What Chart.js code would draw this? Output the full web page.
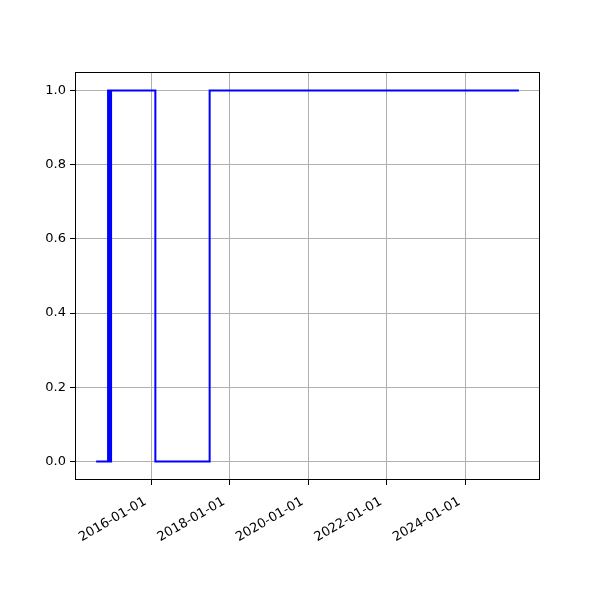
<!DOCTYPE html>
<html>
<head>
<meta charset="utf-8">
<script src="https://cdn.jsdelivr.net/npm/chart.js@4"></script>
<style>
  body { margin: 0; background: #fff; }
  #wrap { width: 600px; height: 600px; }
</style>
</head>
<body>
<div id="wrap"><canvas id="myChart" width="600" height="600"></canvas></div>
<script>
const dates = ['2014-08-05', '2014-11-24', '2014-12-01', '2014-12-08', '2014-12-15', '2014-12-22', '2016-02-07', '2017-06-26', '2025-05-12'];
const states = [0, 1, 0, 1, 0, 1, 0, 1, 1];
const xTickLabels = ['2016-01-01', '2018-01-01', '2020-01-01', '2022-01-01', '2024-01-01'];
const yTicks = [0.0, 0.2, 0.4, 0.6, 0.8, 1.0];

function toMs(s) {
    const p = s.split('-').map(Number);
    return Date.UTC(p[0], p[1] - 1, p[2]);
}

const points = dates.map((d, i) => ({ x: toMs(d), y: states[i] }));
const xFirst = points[0].x;
const xLast = points[points.length - 1].x;
const xPad = (xLast - xFirst) * 0.05;

const frame = {
    id: 'frame',
    afterDatasetsDraw(chart) {
        const a = chart.chartArea;
        const ctx = chart.ctx;
        ctx.save();
        ctx.strokeStyle = '#000';
        ctx.lineWidth = 1;
        ctx.strokeRect(a.left + 0.5, a.top + 0.5, a.right - a.left - 1, a.bottom - a.top - 1);
        ctx.restore();
    }
};

const ctx = document.getElementById('myChart').getContext('2d');
new Chart(ctx, {
    type: 'line',
    data: {
        datasets: [{
            data: points,
            borderColor: '#0000ff',
            borderWidth: 2,
            pointRadius: 0,
            stepped: 'before',
            fill: false
        }]
    },
    options: {
        responsive: false,
        animation: false,
        layout: { padding: { left: 0, right: 60, top: 72, bottom: 0 } },
        plugins: { legend: { display: false }, tooltip: { enabled: false } },
        scales: {
            x: {
                type: 'linear',
                min: xFirst - xPad,
                max: xLast + xPad,
                afterBuildTicks(scale) {
                    scale.ticks = xTickLabels.map(s => ({ value: toMs(s) }));
                },
                afterFit(scale) { scale.height = 120; },
                grid: { color: '#b0b0b0', lineWidth: 1, tickColor: '#000', tickLength: 5 },
                border: { display: false },
                ticks: {
                    autoSkip: false,
                    minRotation: 30,
                    maxRotation: 30,
                    padding: 9,
                    labelOffset: -6,
                    color: '#000',
                    font: { family: 'DejaVu Sans', size: 13 },
                    callback(v) {
                        const d = new Date(v);
                        return d.toISOString().slice(0, 10);
                    }
                }
            },
            y: {
                type: 'linear',
                min: -0.05,
                max: 1.05,
                afterBuildTicks(scale) {
                    scale.ticks = yTicks.map(v => ({ value: v }));
                },
                afterFit(scale) { scale.width = 75; },
                grid: { color: '#b0b0b0', lineWidth: 1, tickColor: '#000', tickLength: 5 },
                border: { display: false },
                ticks: {
                    padding: 4,
                    color: '#000',
                    font: { family: 'DejaVu Sans', size: 13 },
                    callback(v) { return v.toFixed(1); }
                }
            }
        }
    },
    plugins: [frame]
});
</script>
</body>
</html>
